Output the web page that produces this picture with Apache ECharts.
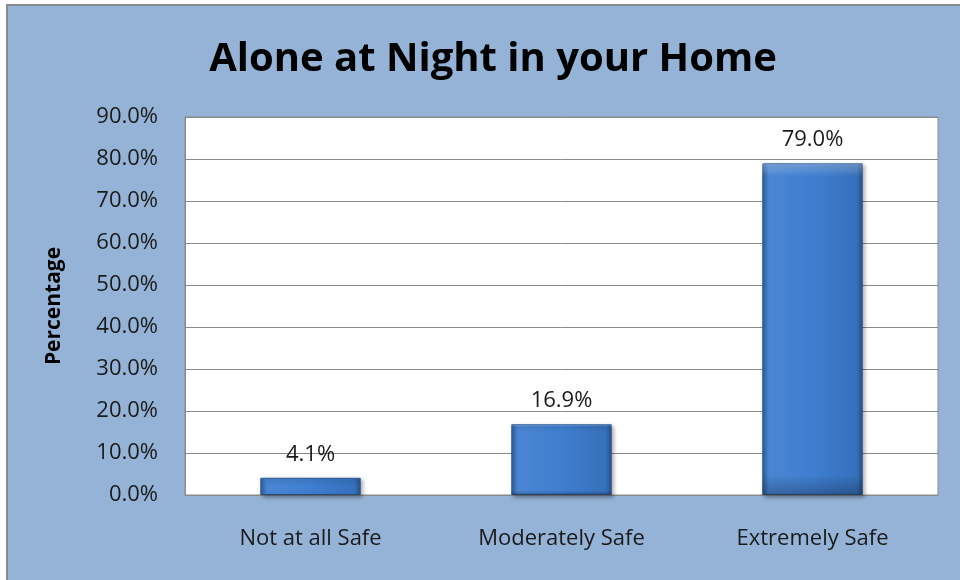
<!DOCTYPE html>
<html>
<head>
<meta charset="utf-8">
<script src="https://cdn.jsdelivr.net/npm/echarts@6/dist/echarts.min.js"></script>
<style>
html,body{margin:0;padding:0;background:#ffffff;width:960px;height:580px;overflow:hidden;}
#frame{position:absolute;left:6px;top:4px;width:960px;height:580px;background:#95b3d7;border-left:2px solid #8a8a8a;border-top:2px solid #8a8a8a;}
#chart{position:absolute;left:0;top:0;width:960px;height:580px;}
</style>
</head>
<body>
<div id="frame"></div>
<div id="chart"></div>
<script>
var titleText = "Alone at Night in your Home";
var categories = ["Not at all Safe", "Moderately Safe", "Extremely Safe"];
var percentages = [4.1, 16.9, 79.0];
var yAxisName = "Percentage";

var font = "'Open Sans', sans-serif";
var chart = echarts.init(document.getElementById('chart'), null, {renderer: 'canvas'});
var barGradient = new echarts.graphic.LinearGradient(0, 0, 1, 0, [
  {offset: 0, color: '#2f5f9f'},
  {offset: 0.06, color: '#4a86d2'},
  {offset: 0.5, color: '#3f7ed0'},
  {offset: 0.94, color: '#3670bb'},
  {offset: 1, color: '#27508a'}
]);
var shadeGradient = new echarts.graphic.LinearGradient(0, 0, 0, 1, [
  {offset: 0, color: 'rgba(255,255,255,0.28)'},
  {offset: 0.04, color: 'rgba(255,255,255,0.0)'},
  {offset: 0.94, color: 'rgba(0,0,0,0.0)'},
  {offset: 1, color: 'rgba(0,0,0,0.25)'}
]);
chart.setOption({
  animation: false,
  backgroundColor: 'transparent',
  title: {
    text: titleText,
    left: 488,
    textAlign: 'center',
    top: 35,
    textStyle: {fontFamily: font, fontSize: 40, fontWeight: 'bold', color: '#000'}
  },
  grid: {
    left: 185, top: 117, right: 22, bottom: 85,
    show: true, backgroundColor: '#ffffff', borderColor: '#8a8a8a', borderWidth: 1
  },
  xAxis: {
    type: 'category',
    data: categories,
    axisLine: {show: true, lineStyle: {color: '#8a8a8a'}},
    axisTick: {show: false},
    axisLabel: {fontFamily: font, fontSize: 22, color: '#1a1a1a', margin: 33}
  },
  yAxis: {
    type: 'value',
    min: 0, max: 90, interval: 10,
    name: yAxisName,
    nameLocation: 'middle',
    nameGap: 120,
    nameTextStyle: {fontFamily: font, fontSize: 21, fontWeight: 'bold', color: '#000'},
    axisLine: {show: true, lineStyle: {color: '#8a8a8a'}},
    axisTick: {show: true, inside: true, length: 5, lineStyle: {color: '#8a8a8a'}},
    splitLine: {show: true, lineStyle: {color: '#8a8a8a', width: 1}},
    axisLabel: {
      fontFamily: font, fontSize: 22, color: '#1a1a1a', margin: 27,
      formatter: function (v) { return v.toFixed(1) + '%'; }
    }
  },
  series: [{
    type: 'bar',
    data: percentages,
    barWidth: '40%',
    itemStyle: {
      color: barGradient,
      borderColor: '#2a5590',
      borderWidth: 1,
      shadowColor: 'rgba(0,0,0,0.35)',
      shadowBlur: 4,
      shadowOffsetX: 2,
      shadowOffsetY: 2
    },
    label: {
      show: true,
      position: 'top',
      distance: 12,
      fontFamily: font, fontSize: 22, color: '#1a1a1a',
      formatter: function (p) { return p.value.toFixed(1) + '%'; }
    }
  }, {
    type: 'bar',
    data: percentages,
    barWidth: '40%',
    barGap: '-100%',
    silent: true,
    itemStyle: {color: shadeGradient},
    label: {show: false}
  }]
});
</script>
</body>
</html>
